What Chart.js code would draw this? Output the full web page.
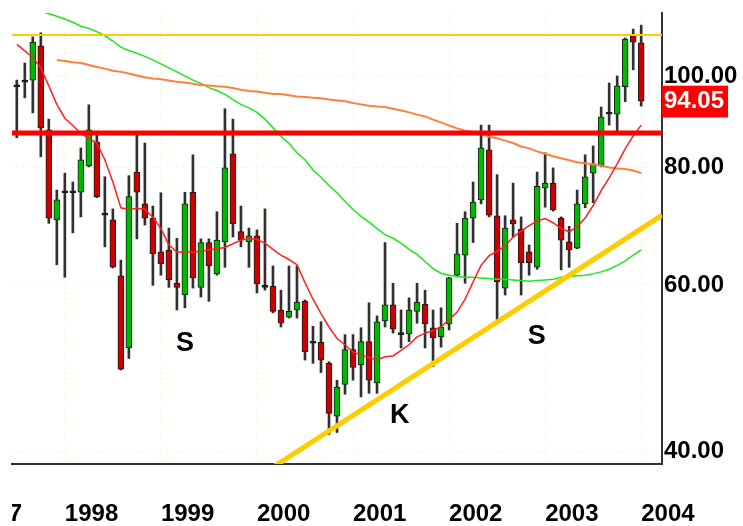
<!DOCTYPE html>
<html>
<head>
<meta charset="utf-8">
<script src="https://cdn.jsdelivr.net/npm/chart.js@4/dist/chart.umd.min.js"></script>
<style>
html,body{margin:0;padding:0;background:#ffffff;overflow:hidden;}
canvas{display:block;}
</style>
</head>
<body>
<canvas id="c" width="743" height="526"></canvas>
<script>
// ---- Data (monthly candles, Jul 1997 .. Jan 2004) ----
const opens  = [97.4,98.5,99.0,107.6,87.7,70.4,75.2,75.2,75.3,80.3,85.1,71.2,70.4,61.4,51.5,79.1,73.2,70.7,65.1,65.4,60.3,58.6,75.3,59.7,66.6,61.7,66.7,82.7,68.4,66.7,67.7,59.7,59.9,56.5,55.5,56.5,57.7,52.1,52.2,49.6,43.6,47.1,51.3,49.4,52.3,47.3,55.0,57.2,53.2,53.3,56.3,57.3,54.1,52.9,54.6,61.5,64.6,70.7,73.9,83.5,71.1,59.6,70.4,68.8,65.1,62.7,76.1,77.0,70.7,66.7,65.7,73.2,78.9,80.3,91.1,91.1,97.4,110.3,108.4];
const highs  = [99.0,103.2,110.0,111.1,90.0,75.7,78.9,77.2,83.9,93.2,87.3,78.2,72.3,63.8,78.4,87.3,84.9,72.8,75.2,69.0,67.3,75.3,82.5,67.2,67.2,71.8,92.3,90.0,72.8,69.0,68.7,72.3,62.9,59.3,62.9,62.9,57.9,54.3,54.9,49.8,47.6,53.2,53.2,54.1,57.5,55.7,66.6,60.3,56.5,58.2,60.3,59.3,56.5,56.8,61.2,69.8,71.8,77.2,88.7,88.7,78.6,71.1,77.0,70.9,66.2,79.1,82.9,79.9,70.9,69.3,75.7,82.5,84.3,92.7,98.3,100.0,109.7,112.1,113.2];
const lows   = [86.0,94.8,91.4,82.1,69.8,63.1,61.2,68.2,70.9,80.1,74.3,65.9,62.6,48.8,50.2,67.2,69.5,60.0,61.5,59.7,56.5,56.8,59.6,58.3,57.7,61.5,62.7,67.5,65.9,62.7,58.9,59.3,56.1,54.2,55.4,55.4,50.0,49.6,48.5,41.7,41.9,46.0,47.6,45.7,46.1,46.1,54.2,53.4,51.5,52.3,54.7,51.5,49.2,51.6,53.8,61.4,60.3,66.6,73.2,70.9,54.7,58.6,67.5,58.6,61.5,62.4,72.6,71.9,62.3,62.7,65.6,72.5,73.4,80.1,88.7,87.3,93.9,101.5,92.9];
const closes = [97.4,98.5,108.6,88.1,70.7,73.9,75.2,75.2,81.5,87.7,74.5,71.2,62.7,48.9,74.5,75.3,70.7,64.8,63.2,60.8,59.7,73.2,61.1,66.6,62.9,67.0,79.9,69.7,67.0,67.7,60.2,59.7,56.3,54.7,56.3,57.6,51.0,52.1,50.0,43.9,46.8,51.3,49.1,52.3,47.6,54.9,57.2,53.9,53.2,56.5,57.6,54.6,52.8,54.2,61.1,64.8,70.7,73.5,83.9,71.2,60.5,69.0,69.7,63.4,63.4,76.4,77.0,72.1,67.0,65.4,73.2,78.2,80.7,90.5,91.1,97.6,109.4,108.6,94.05];

// moving averages
const maShort = [108.0,106.3,104.6,102.0,97.6,93.3,90.2,88.6,86.9,85.9,84.9,81.5,77.2,72.5,72.2,72.4,72.2,70.9,68.9,66.2,65.1,65.1,65.1,65.2,65.4,65.6,65.8,66.4,67.0,67.3,67.1,66.5,65.5,64.6,63.9,63.1,60.4,58.0,56.0,54.2,52.7,51.9,51.0,50.6,50.3,50.0,50.4,50.5,51.2,51.9,52.9,53.4,53.7,54.2,55.2,56.2,58.0,60.5,63.0,64.5,65.2,66.1,67.5,68.5,69.4,70.2,70.6,69.9,68.9,68.4,69.2,70.7,72.9,75.6,78.0,80.7,83.7,86.4,88.7];
const maLong = [null,null,null,null,null,104.0,103.7,103.4,103.2,102.7,102.2,101.8,101.3,101.0,100.6,100.1,99.7,99.4,99.2,98.9,98.6,98.4,98.1,97.8,97.7,97.5,97.4,97.1,96.7,96.4,96.3,96.0,95.7,95.7,95.4,95.1,95.0,94.8,94.7,94.4,94.2,94.0,93.6,93.3,93.0,92.8,92.7,92.3,91.9,91.5,91.0,90.6,89.9,89.3,88.6,88.0,87.5,87.2,86.9,86.2,85.9,85.4,84.9,84.2,83.8,83.2,82.7,82.2,81.8,81.4,81.0,80.8,80.6,80.3,80.0,79.8,79.7,79.4,78.9];
const maMid = [null,null,null,117.1,116.4,115.7,114.9,114.0,112.9,112.3,111.4,110.3,108.9,107.3,106.4,105.7,104.9,104.0,103.0,102.0,101.0,100.0,99.0,98.2,97.2,96.5,95.6,94.4,93.3,92.5,91.5,90.0,88.1,86.3,84.8,82.9,81.5,79.5,78.1,76.5,75.2,73.6,72.2,71.0,70.0,68.9,67.9,67.3,66.5,65.5,64.7,63.6,62.5,61.8,61.5,61.3,61.2,61.2,61.1,61.0,60.9,60.9,60.8,60.7,60.6,60.7,60.8,60.9,61.2,61.3,61.4,61.5,61.7,62.0,62.4,63.0,63.7,64.6,65.4];

// axes
const yearTickIdx = [-6, 6, 18, 30, 42, 54, 66, 78];
const yearLabels  = ['1997','1998','1999','2000','2001','2002','2003','2004'];
const priceTicks  = [40, 60, 80, 100];
const lastPrice   = 94.05;
const xRange = [-0.6, 80.6];
const yRange = [38.8, 116.6];

// drawn levels
const topLevel = 110.5;
const supportLevel = 87.0;
const trendIdx = [31.6, 80.6];
const trendVal = [38.3, 71.2];

// annotations
const noteText = ['S', 'K', 'S'];
const noteIdx  = [21.0, 47.85, 64.95];
const noteVal  = [52.0, 43.7, 53.0];

// ---- build ----
const FONT = '"Liberation Sans", Arial, sans-serif';
const idx = opens.map((_, i) => i);
const wickData = idx.map(i => ({x: i, y: [lows[i], highs[i]]}));
const bodyData = idx.map(i => ({x: i, y: [opens[i], closes[i]]}));
const bodyColors = idx.map(i => closes[i] > opens[i] ? '#00b800' : (closes[i] < opens[i] ? '#cc0000' : '#111111'));
const lineOf = arr => arr.map((v, i) => ({x: i, y: v}));

const notesPlugin = {
  id: 'notes',
  afterDatasetsDraw(chart) {
    const {ctx, scales: {x, y}} = chart;
    ctx.save();
    ctx.font = 'bold 27px ' + FONT;
    ctx.fillStyle = '#000';
    ctx.textAlign = 'center';
    ctx.textBaseline = 'middle';
    noteText.forEach((t, k) => ctx.fillText(t, x.getPixelForValue(noteIdx[k]), y.getPixelForValue(noteVal[k])));
    ctx.restore();
  }
};

// the x labels are only shown from the plot's left edge on
const labelClipPlugin = {
  id: 'labelClip',
  beforeDraw(chart) {
    const xs = chart.scales.x;
    const orig = xs._computeLabelArea;
    xs._computeLabelArea = function () {
      const a = orig.call(this);
      if (a) a.left = chart.chartArea.left;
      return a;
    };
  }
};

const GRID = '#eeecb0';
new Chart(document.getElementById('c'), {
  type: 'bar',
  data: {
    datasets: [
      {type: 'line', data: [{x: xRange[0], y: supportLevel}, {x: xRange[1], y: supportLevel}], borderColor: '#ff0000', borderWidth: 5, pointRadius: 0, order: 1, clip: 0},
      {type: 'line', data: [{x: xRange[0], y: topLevel}, {x: xRange[1], y: topLevel}], borderColor: '#ffcc00', borderWidth: 2, pointRadius: 0, order: 1, clip: 0},
      {type: 'line', data: [{x: trendIdx[0], y: trendVal[0]}, {x: trendIdx[1], y: trendVal[1]}], borderColor: '#ffcc00', borderWidth: 5, pointRadius: 0, order: 2, clip: 0},
      {type: 'line', data: lineOf(maShort), borderColor: '#ff2020', borderWidth: 1.5, pointRadius: 0, order: 3, clip: 0},
      {type: 'line', data: lineOf(maLong), borderColor: '#ff7f3f', borderWidth: 2, pointRadius: 0, order: 3, clip: 0},
      {type: 'line', data: lineOf(maMid), borderColor: '#1ee61e', borderWidth: 1.5, pointRadius: 0, order: 3, clip: 0},
      {type: 'bar', data: bodyData, backgroundColor: bodyColors, borderColor: '#1a1a1a', borderWidth: 1, borderSkipped: false, barThickness: 6, minBarLength: 2, grouped: false, order: 10},
      {type: 'bar', data: wickData, backgroundColor: '#303030', borderWidth: 0, barThickness: 2, grouped: false, order: 11}
    ]
  },
  options: {
    responsive: false,
    animation: false,
    devicePixelRatio: 1,
    layout: {padding: {left: 12, top: 13, right: 0, bottom: 0}},
    plugins: {legend: {display: false}, tooltip: {enabled: false}},
    elements: {line: {tension: 0}},
    scales: {
      x: {
        type: 'linear', position: 'bottom', min: xRange[0], max: xRange[1], offset: false, bounds: 'data',
        afterBuildTicks: s => { s.ticks = yearTickIdx.map(v => ({value: v})); },
        afterFit: s => { s.height = 62; s.paddingLeft = 0; s.paddingRight = 0; },
        ticks: {
          align: 'start', padding: 36, autoSkip: false, maxRotation: 0, minRotation: 0, color: '#000',
          font: {family: FONT, size: 24, weight: 'bold'},
          callback: v => { const k = yearTickIdx.indexOf(v); return k >= 0 ? yearLabels[k] : ''; }
        },
        grid: {color: GRID, drawTicks: false, lineWidth: 1, offset: false},
        border: {display: true, color: '#333333', width: 2, dash: [1, 4]}
      },
      y: {
        type: 'logarithmic', position: 'right', min: yRange[0], max: yRange[1], bounds: 'data',
        afterBuildTicks: s => { s.ticks = priceTicks.concat([lastPrice]).map(v => ({value: v})); },
        afterFit: s => { s.width = 81; s.paddingTop = 0; s.paddingBottom = 0; },
        ticks: {
          padding: 2, autoSkip: false,
          color: c => (c.tick && c.tick.value === lastPrice) ? '#ffffff' : '#000000',
          font: {family: FONT, size: 24, weight: 'bold'},
          callback: v => Number(v).toFixed(2),
          showLabelBackdrop: c => !!(c.tick && c.tick.value === lastPrice),
          backdropColor: '#ff0000',
          backdropPadding: {left: 2, right: 4, top: 1, bottom: 2}
        },
        grid: {color: c => (c.tick && c.tick.value === lastPrice) ? 'rgba(0,0,0,0)' : GRID, drawTicks: false, lineWidth: 1},
        border: {display: true, color: '#333333', width: 2, dash: [1, 4]}
      }
    }
  },
  plugins: [notesPlugin, labelClipPlugin]
});
</script>
</body>
</html>
